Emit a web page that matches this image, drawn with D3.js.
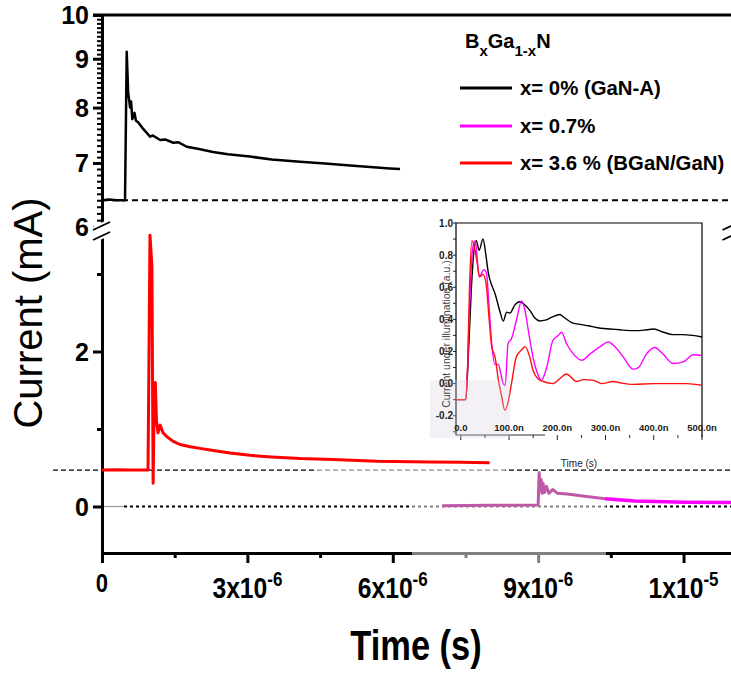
<!DOCTYPE html>
<html><head><meta charset="utf-8">
<script src="https://cdn.jsdelivr.net/npm/d3@7"></script>
<style>body{margin:0;background:#fff}svg{display:block}text{font-family:"Liberation Sans",Arial,sans-serif}</style>
</head><body>
<svg id="chart" width="731" height="675"></svg>
<script>
// ---------------- DATA (time in µs, current in mA) ----------------
const blackT = [0,0.15,0.3,0.475,0.51,0.54,0.58,0.6,0.625,0.67,0.7,0.75,0.85,0.93,0.99,1.05,1.2,1.3,1.47,1.57,1.75,2.0,2.29,2.6,3.05,3.5,4.09,4.6,5.12,5.6,5.94,6.15];
const blackV = [6.4,6.41,6.4,6.4,9.15,8.3,8.0,8.12,7.78,7.9,7.75,7.72,7.6,7.52,7.46,7.48,7.4,7.41,7.35,7.36,7.28,7.24,7.19,7.15,7.11,7.06,7.02,6.99,6.96,6.93,6.91,6.9];

const redT = [0,0.3,0.6,0.95,0.99,1.03,1.055,1.08,1.1,1.125,1.155,1.2,1.26,1.34,1.47,1.61,1.82,2.02,2.33,2.64,3.05,3.5,4.09,4.77,5.67,6.77,7.4,8.0];
const redV = [0.47,0.475,0.47,0.47,3.5,3.1,0.3,1.5,1.6,1.1,0.95,1.05,0.95,0.9,0.84,0.8,0.77,0.75,0.72,0.69,0.66,0.64,0.62,0.607,0.585,0.575,0.57,0.565];

const magT = [7.02,8.0,9.0,9.02,9.04,9.06,9.08,9.1,9.13,9.17,9.22,9.3,9.4,9.6,10.0,10.38,11.0,12.0,13.0];
const magV = [0.01,0.015,0.02,0.44,0.2,0.35,0.17,0.3,0.18,0.26,0.17,0.22,0.17,0.16,0.13,0.1,0.07,0.055,0.05];

const baseTop = 6.4;     // dashed reference level, upper panel
const baseRed = 0.47;    // dashed reference level, lower panel

const xTickValues = [0,3,6,9,12];
const xTickBase = ["0","3x10","6x10","9x10","1x10"];
const xTickExp  = ["","-6","-6","-6","-5"];
const xMinorTicks = [1.5,4.5,7.5,10.5];
const yTopTicks = [6,7,8,9,10];
const yBotTicks = [0,2];
const yBotMinor = [1,3];

const legendLabels = ["x= 0% (GaN-A)","x= 0.7%","x= 3.6 % (BGaN/GaN)"];
const legendColors = ["#000000","#ff00ff","#ff0000"];

// inset data (time in ns, normalised current)
const inBlackT = [-10,10,16,22,27,32,38,46,52,57,62,71,81,88,95,102,112,122,133,143,153,164,175,190,205,215,230,245,265,290,310,330,350,370,385,400,420,440,460,480,500];
const inBlackV = [-0.1,-0.1,0.2,0.6,0.82,0.89,0.83,0.9,0.8,0.69,0.63,0.56,0.45,0.39,0.445,0.44,0.49,0.51,0.49,0.456,0.41,0.39,0.395,0.415,0.43,0.41,0.38,0.37,0.36,0.345,0.34,0.335,0.33,0.33,0.335,0.34,0.32,0.305,0.305,0.3,0.29];
const inMagT = [-10,10,14,19,25,30,38,48,53,59,64,71,78,83,88,92,98,105,115,126,133,140,147,157,167,178,191,202,209,219,233,251,268,289,306,316,337,357,368,385,402,419,440,461,482,500];
const inMagV = [-0.1,-0.1,0.1,0.55,0.85,0.89,0.665,0.71,0.69,0.456,0.25,0.12,0.12,0.06,0.0,-0.01,0.25,0.28,0.39,0.515,0.456,0.33,0.206,0.08,0.02,0.1,0.27,0.3,0.32,0.25,0.185,0.145,0.185,0.23,0.26,0.24,0.165,0.09,0.1,0.185,0.225,0.185,0.125,0.135,0.18,0.175];
const inRedT = [-10,10,14,18,23,28,34,39,46,52,59,64,71,78,85,91,98,105,115,126,133,143,150,160,171,191,205,219,240,254,275,292,316,330,357,400,427,468,500];
const inRedV = [-0.1,-0.1,0.1,0.6,0.89,0.85,0.75,0.665,0.68,0.63,0.39,0.23,0.165,0.02,-0.085,-0.165,-0.117,0.0,0.165,0.21,0.23,0.165,0.08,0.03,0.013,0.0,0.03,0.06,0.013,0.025,0.02,0.0,0.013,0.005,-0.005,0.0,0.0,0.0,-0.01];
const inXTicks = [0,100,200,300,400,500];
const inXLabels = ["0.0","100.0n","200.0n","300.0n","400.0n","500.0n"];
const inYTicks = [1.0,0.8,0.6,0.4,0.2,0.0,-0.2];
const inYLabels = ["1.0","0.8","0.6","0.4","0.2","0.0","-0.2"];

// ---------------- CHART ----------------
const svg = d3.select("#chart");
const x = d3.scaleLinear().domain([0,13]).range([102,732]);
const yTop = d3.scaleLog().domain([6,10]).range([227,15]);
const yBot = d3.scaleLinear().domain([-0.6,3.5]).range([553,235.25]);

// horizontally condensed text placed at (px,py)
function ctext(parent,px,py,k){
  return parent.append("text").attr("transform",`translate(${px},${py}) scale(${k},1)`);
}

// reference lines
svg.append("line").attr("x1",102).attr("x2",731).attr("y1",yTop(baseTop)).attr("y2",yTop(baseTop))
  .attr("stroke","#000").attr("stroke-width",2).attr("stroke-dasharray","6,4");
svg.append("line").attr("x1",53).attr("x2",731).attr("y1",yBot(baseRed)).attr("y2",yBot(baseRed))
  .attr("stroke","#000").attr("stroke-width",1.2).attr("stroke-dasharray","5,3");
svg.append("line").attr("x1",104).attr("x2",124).attr("y1",yBot(0)).attr("y2",yBot(0))
  .attr("stroke","#999").attr("stroke-width",1.2);
svg.append("line").attr("x1",124).attr("x2",731).attr("y1",yBot(0)).attr("y2",yBot(0))
  .attr("stroke","#000").attr("stroke-width",2.2).attr("stroke-dasharray","3,3");

// axes
function styleAxis(g,w){ g.select(".domain").attr("stroke","#000").attr("stroke-width",w); g.selectAll(".tick line").attr("stroke","#000"); }
const gTop = svg.append("g").attr("transform","translate(102,0)")
  .call(d3.axisLeft(yTop).tickValues(yTopTicks).tickSize(9).tickSizeOuter(0).tickFormat(""));
styleAxis(gTop,3); gTop.selectAll(".tick line").attr("stroke-width",3);
const topMinor = d3.range(61,100).filter(v=>v%10!==0).map(v=>v/10);
const gTopMin = svg.append("g").attr("transform","translate(102,0)")
  .call(d3.axisLeft(yTop).tickValues(topMinor).tickSize(5).tickFormat(""));
gTopMin.select(".domain").remove(); gTopMin.selectAll(".tick line").attr("stroke","#000").attr("stroke-width",2);

const gBot = svg.append("g").attr("transform","translate(102,0)")
  .call(d3.axisLeft(yBot).tickValues(yBotTicks).tickSize(9).tickSizeOuter(0).tickFormat(""));
styleAxis(gBot,3); gBot.selectAll(".tick line").attr("stroke-width",3);
const gBotMin = svg.append("g").attr("transform","translate(102,0)")
  .call(d3.axisLeft(yBot).tickValues(yBotMinor).tickSize(5).tickFormat(""));
gBotMin.select(".domain").remove(); gBotMin.selectAll(".tick line").attr("stroke","#000").attr("stroke-width",3);

const gX = svg.append("g").attr("transform","translate(0,553)")
  .call(d3.axisBottom(x).tickValues(xTickValues).tickSize(10).tickSizeOuter(0).tickFormat(""));
styleAxis(gX,3); gX.selectAll(".tick line").attr("stroke-width",3);
const gXMin = svg.append("g").attr("transform","translate(0,553)")
  .call(d3.axisBottom(x).tickValues(xMinorTicks).tickSize(5).tickFormat(""));
gXMin.select(".domain").remove(); gXMin.selectAll(".tick line").attr("stroke","#000").attr("stroke-width",3);

// top border
svg.append("line").attr("x1",93).attr("x2",731).attr("y1",15).attr("y2",15).attr("stroke","#000").attr("stroke-width",3);

// axis breaks
function breakMarks(cx){
  [[230,222],[240,232]].forEach(([ya,yb])=>{
    svg.append("line").attr("x1",cx-9).attr("y1",ya).attr("x2",cx+8).attr("y2",yb).attr("stroke","#fff").attr("stroke-width",6);
  });
  svg.append("line").attr("x1",cx).attr("x2",cx).attr("y1",226).attr("y2",236).attr("stroke","#fff").attr("stroke-width",5);
  [[230,222],[240,232]].forEach(([ya,yb])=>{
    svg.append("line").attr("x1",cx-9).attr("y1",ya).attr("x2",cx+8).attr("y2",yb).attr("stroke","#000").attr("stroke-width",1.8);
  });
}
breakMarks(102); breakMarks(731.5);

// y tick labels
svg.selectAll(".ytl").data(yTopTicks).enter().append("text")
  .attr("x",89).attr("y",d=>yTop(d)).attr("dy","0.36em").attr("text-anchor","end")
  .attr("font-size",25).attr("font-weight","bold").text(d=>d);
svg.selectAll(".ybl").data(yBotTicks).enter().append("text")
  .attr("x",89).attr("y",d=>yBot(d)).attr("dy","0.36em").attr("text-anchor","end")
  .attr("font-size",25).attr("font-weight","bold").text(d=>d);

// x tick labels
xTickValues.forEach((v,i)=>{
  const t = ctext(svg,x(v),xTickExp[i]?598:592,0.85).attr("text-anchor","middle").attr("font-weight","bold");
  t.append("tspan").attr("font-size",xTickExp[i]?29:26).text(xTickBase[i]);
  if(xTickExp[i]) t.append("tspan").attr("font-size",20).attr("dy",-12).text(xTickExp[i]);
});

// axis titles
svg.append("text").attr("transform","translate(42,313) rotate(-90)").attr("text-anchor","middle")
  .attr("font-size",40).text("Current (mA)");
ctext(svg,416,660,0.82).attr("text-anchor","middle")
  .attr("font-size",42).attr("font-weight","bold").text("Time (s)");

// pasted-region fading
svg.append("rect").attr("x",316).attr("y",465).attr("width",189).attr("height",11).attr("fill","#fff").attr("opacity",0.55);
svg.append("rect").attr("x",412).attr("y",500).attr("width",194).attr("height",66).attr("fill","#fff").attr("opacity",0.5);

// curves
const lineTop = d3.line().x(d=>x(d[0])).y(d=>yTop(d[1]));
const lineBot = d3.line().x(d=>x(d[0])).y(d=>yBot(d[1]));
svg.append("path").datum(d3.zip(blackT,blackV)).attr("d",lineTop).attr("fill","none").attr("stroke","#000").attr("stroke-width",2.5).attr("stroke-linejoin","round");
svg.append("path").datum(d3.zip(redT,redV)).attr("d",lineBot).attr("fill","none").attr("stroke","#ff0000").attr("stroke-width",3).attr("stroke-linejoin","round");
const magData = d3.zip(magT,magV);
svg.append("path").datum(magData.filter(d=>d[0]<=10.38)).attr("d",lineBot).attr("fill","none").attr("stroke","#c058a8").attr("stroke-width",3).attr("stroke-linejoin","round");
svg.append("path").datum(magData.filter(d=>d[0]>=10.38)).attr("d",lineBot).attr("fill","none").attr("stroke","#ff00ff").attr("stroke-width",3.5).attr("stroke-linejoin","round");

// ---------------- INSET ----------------
const ix = d3.scaleLinear().domain([-10,500]).range([456,702]);
const iy = d3.scaleLinear().domain([-0.32,1.0]).range([435,223]);
const ins = svg.append("g");
ins.append("rect").attr("x",456).attr("y",223).attr("width",246).attr("height",212).attr("fill","#fff").attr("stroke","none");
ins.append("path").attr("d","M456,435V223H702V437").attr("fill","none").attr("stroke","#000").attr("stroke-width",1.2);
ins.append("line").attr("x1",456).attr("x2",545).attr("y1",435).attr("y2",435).attr("stroke","#333").attr("stroke-width",1);
const inXMinor = d3.range(0,501,50);
ins.selectAll(".ixt").data(inXMinor).enter().append("line")
  .attr("x1",d=>ix(d)).attr("x2",d=>ix(d)).attr("y1",435).attr("y2",d=>d%100===0?440:438)
  .attr("stroke","#222").attr("stroke-width",1);
const inYMinor = d3.range(-3,11).map(v=>v/10);
ins.selectAll(".iyt").data(inYMinor).enter().append("line")
  .attr("x1",453).attr("x2",456).attr("y1",d=>iy(d)).attr("y2",d=>iy(d)).attr("stroke","#222").attr("stroke-width",1);
const iline = d3.line().x(d=>ix(d[0])).y(d=>iy(d[1])).curve(d3.curveMonotoneX);
[[inBlackT,inBlackV,"#000"],[inMagT,inMagV,"#ff00ff"],[inRedT,inRedV,"#ff1010"]].forEach(([t,v,c])=>{
  ins.append("path").datum(d3.zip(t,v)).attr("d",iline).attr("fill","none").attr("stroke",c).attr("stroke-width",1.4);
});
ins.append("rect").attr("x",430).attr("y",380).attr("width",80).attr("height",58).attr("fill","#d6d0de").attr("opacity",0.3);
ins.selectAll(".ixl").data(inXTicks).enter().append("text")
  .attr("x",d=>ix(d)).attr("y",431).attr("text-anchor","middle").attr("font-size",9.5).attr("font-weight","bold").attr("fill","#222")
  .text((d,i)=>inXLabels[i]);
ins.selectAll(".iyl").data(inYTicks).enter().append("text")
  .attr("x",453).attr("y",d=>iy(d)).attr("dy","0.35em").attr("text-anchor","end").attr("font-size",10).attr("font-weight","bold").attr("fill","#222")
  .text((d,i)=>inYLabels[i]);
ins.append("text").attr("transform","translate(450,334) rotate(-90)").attr("text-anchor","middle")
  .attr("font-size",10.5).attr("fill","#444").text("Current under illumination (a.u.)");
ins.append("text").attr("x",579).attr("y",467).attr("text-anchor","middle").attr("font-size",10).attr("fill","#222").text("Time (s)");

// ---------------- LEGEND ----------------
const lt = svg.append("text").attr("x",465).attr("y",48).attr("font-weight","bold");
lt.append("tspan").attr("font-size",20).text("B");
lt.append("tspan").attr("font-size",15).attr("dy",8).text("x");
lt.append("tspan").attr("font-size",20).attr("dy",-8).text("Ga");
lt.append("tspan").attr("font-size",15).attr("dy",8).text("1-x");
lt.append("tspan").attr("font-size",20).attr("dy",-8).text("N");
const legY = [88,126,163];
legendLabels.forEach((lab,i)=>{
  svg.append("line").attr("x1",460).attr("x2",512).attr("y1",legY[i]).attr("y2",legY[i]).attr("stroke",legendColors[i]).attr("stroke-width",3);
  ctext(svg,520,legY[i]+7,0.97).attr("font-size",21).attr("font-weight","bold").text(lab);
});
</script>
</body></html>
